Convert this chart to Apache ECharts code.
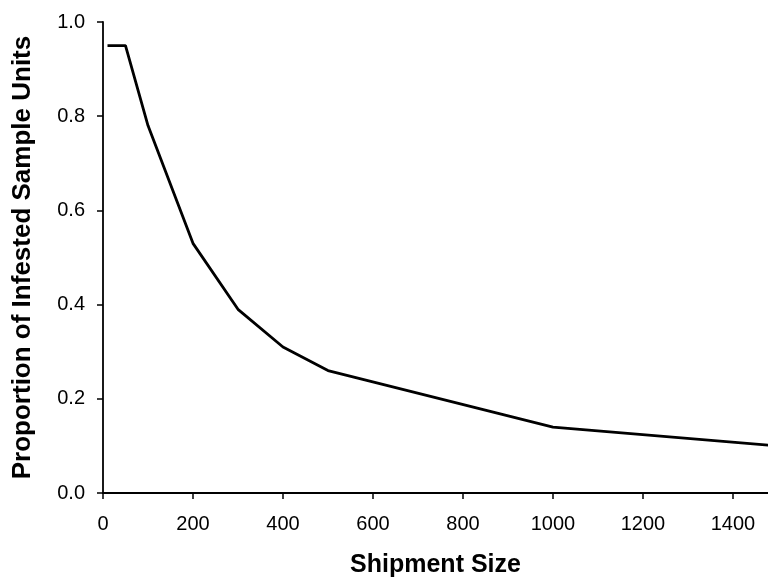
<!DOCTYPE html>
<html>
<head>
<meta charset="utf-8">
<script src="https://cdn.jsdelivr.net/npm/echarts@6/dist/echarts.min.js"></script>
<style>
  html, body { margin: 0; padding: 0; background: #fff; }
  #chart { width: 768px; height: 583px; }
</style>
</head>
<body>
<div id="chart"></div>
<script>
// shipment size (x) and proportion of infested sample units (y)
var shipmentSize = [10, 50, 100, 200, 300, 400, 500, 1000, 1500];
var proportion = [0.95, 0.95, 0.78, 0.53, 0.39, 0.31, 0.26, 0.14, 0.10];
var xTicks = [0, 200, 400, 600, 800, 1000, 1200, 1400];
var yTicks = [0, 0.2, 0.4, 0.6, 0.8, 1.0];

var font = '"Liberation Sans", Arial, sans-serif';
var chart = echarts.init(document.getElementById('chart'));

var points = shipmentSize.map(function (x, i) { return [x, proportion[i]]; });

chart.setOption({
  animation: false,
  grid: { left: 103, right: 0, top: 22, bottom: 89, containLabel: false },
  xAxis: {
    type: 'value',
    min: 0,
    max: 1478,
    interval: 200,
    name: 'Shipment Size',
    nameLocation: 'middle',
    nameGap: 60,
    nameTextStyle: { fontFamily: font, fontSize: 25, fontWeight: 'bold', color: '#000' },
    axisLine: { lineStyle: { color: '#000', width: 1.8 } },
    axisTick: { show: true, length: 6, lineStyle: { color: '#000', width: 1.5 }, customValues: xTicks },
    axisLabel: {
      fontFamily: font, fontSize: 20, color: '#000', margin: 21,
      customValues: xTicks,
      formatter: function (v) { return String(v); }
    },
    splitLine: { show: false }
  },
  yAxis: {
    type: 'value',
    min: 0,
    max: 1,
    interval: 0.2,
    name: 'Proportion of Infested Sample Units',
    nameLocation: 'middle',
    nameGap: 67,
    nameRotate: 90,
    nameTextStyle: { fontFamily: font, fontSize: 26, fontWeight: 'bold', color: '#000' },
    axisLine: { show: true, lineStyle: { color: '#000', width: 1.8 } },
    axisTick: { show: true, length: 6, lineStyle: { color: '#000', width: 1.5 }, customValues: yTicks },
    axisLabel: {
      fontFamily: font, fontSize: 20, color: '#000', margin: 18,
      customValues: yTicks,
      formatter: function (v) { return v.toFixed(1); }
    },
    splitLine: { show: false }
  },
  series: [{
    type: 'line',
    data: points,
    showSymbol: false,
    symbol: 'none',
    clip: true,
    lineStyle: { color: '#000', width: 2.8 }
  }]
});
</script>
</body>
</html>
